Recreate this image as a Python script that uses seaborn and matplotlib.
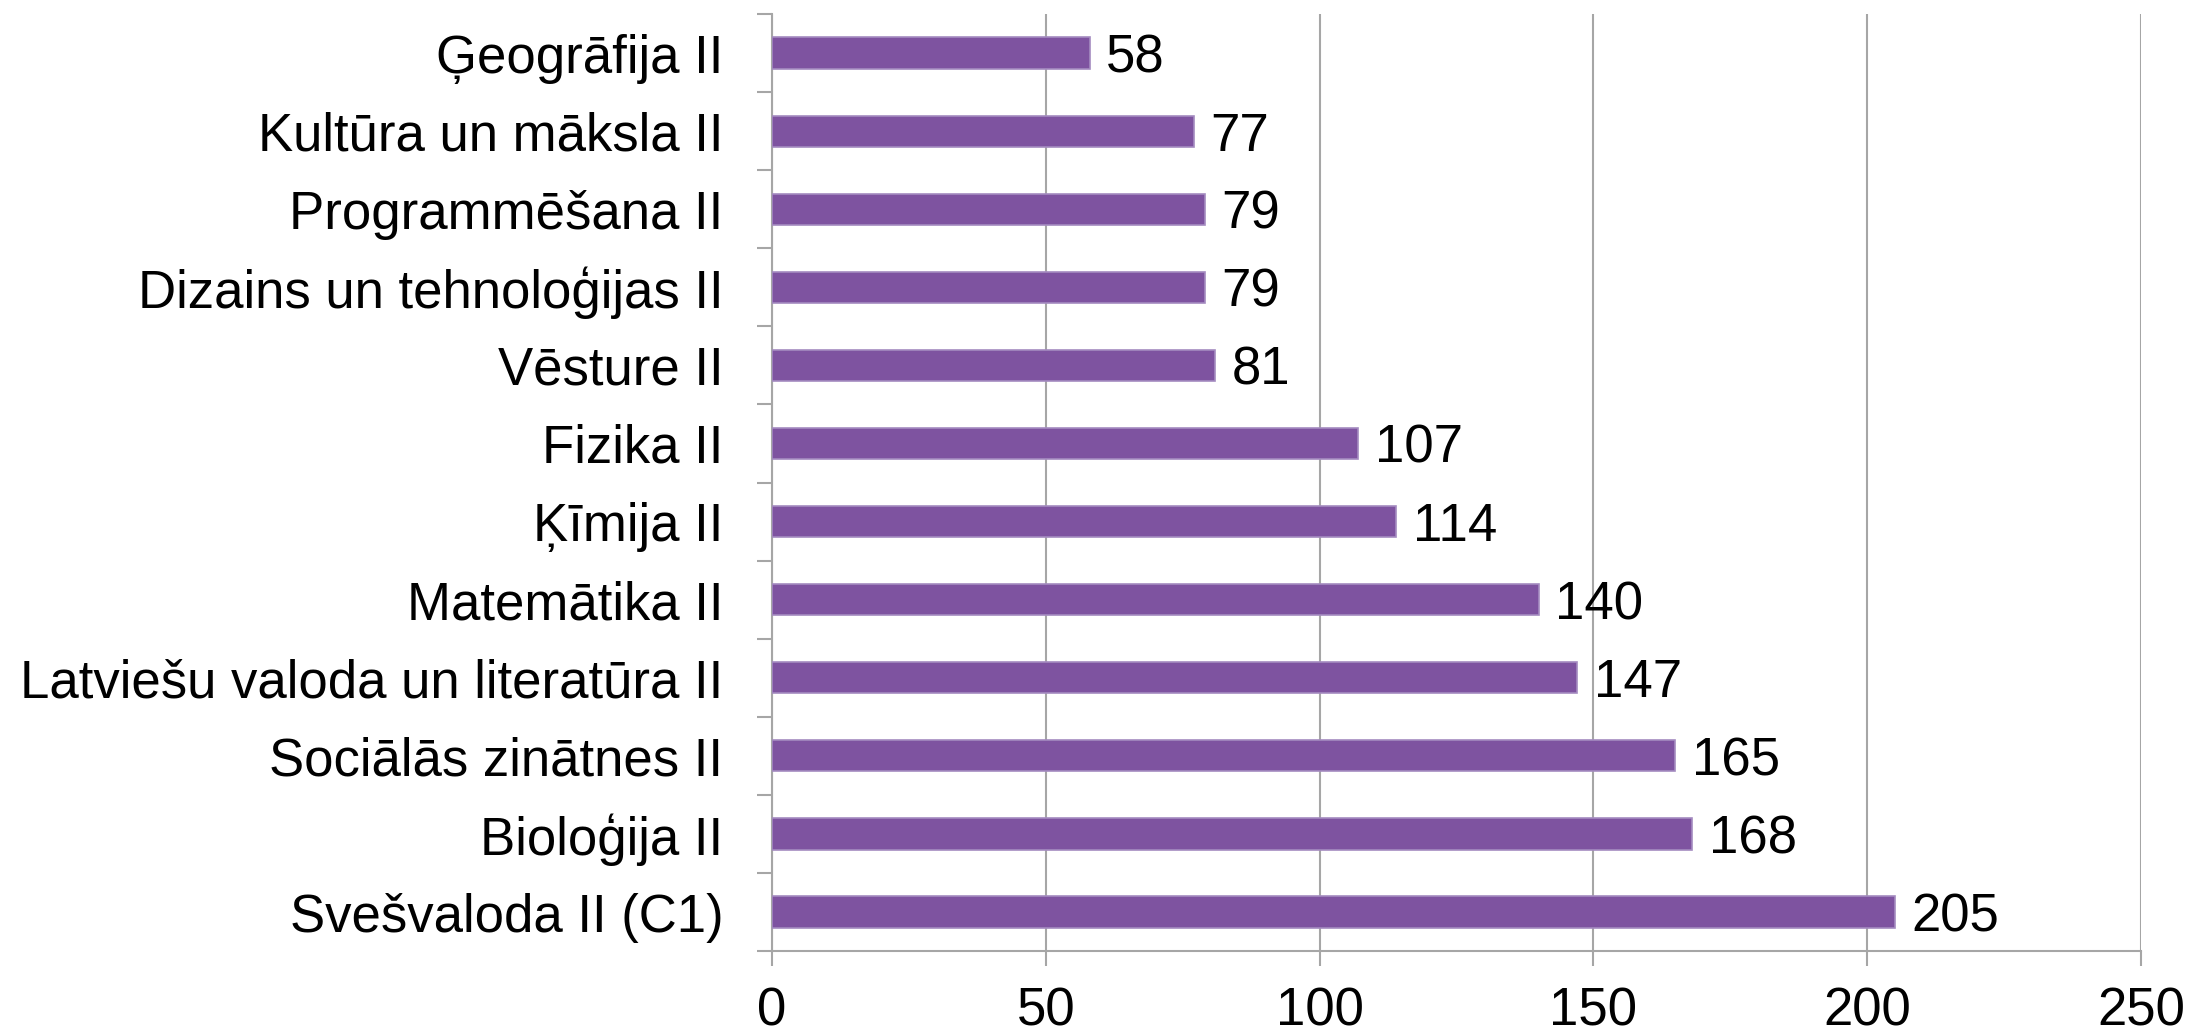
import matplotlib
matplotlib.use('Agg')
import matplotlib.pyplot as plt
from matplotlib.ticker import FixedLocator
import seaborn as sns
import pandas as pd
import numpy as np

# Chart data (top to bottom)
subjects = [
    'Ģeogrāfija II',
    'Kultūra un māksla II',
    'Programmēšana II',
    'Dizains un tehnoloģijas II',
    'Vēsture II',
    'Fizika II',
    'Ķīmija II',
    'Matemātika II',
    'Latviešu valoda un literatūra II',
    'Sociālās zinātnes II',
    'Bioloģija II',
    'Svešvaloda II (C1)',
]
counts = [58, 77, 79, 79, 81, 107, 114, 140, 147, 165, 168, 205]
x_ticks = [0, 50, 100, 150, 200, 250]

df = pd.DataFrame({'subject': subjects, 'count': counts})

sns.set_style('white')
plt.rcParams['font.family'] = ['Liberation Sans', 'DejaVu Sans']

bar_color = '#7E53A0'
grid_color = '#A6A6A6'
font_size = 38

fig = plt.figure(figsize=(21.88, 10.36), dpi=100)
ax = fig.add_axes([0.3528, 0.0820, 0.6257, 0.9045])

sns.barplot(x='count', y='subject', data=df, orient='h', color=bar_color,
            width=0.4, edgecolor='#A48BC0', linewidth=1.2, saturation=1,
            ax=ax, zorder=3)

ax.set_xlim(x_ticks[0], x_ticks[-1])
ax.set_ylim(len(subjects) - 0.5, -0.5)
ax.set_xticks(x_ticks)
ax.set_xlabel('')
ax.set_ylabel('')

# vertical gridlines
ax.grid(axis='x', color=grid_color, linewidth=1.5, zorder=0)
ax.set_axisbelow(True)

# spines
for side in ['top', 'right']:
    ax.spines[side].set_visible(False)
for side in ['left', 'bottom']:
    ax.spines[side].set_color(grid_color)
    ax.spines[side].set_linewidth(1.5)

# category ticks sit between the bars
ax.yaxis.set_minor_locator(FixedLocator(np.arange(-0.5, len(subjects), 1.0)))
ax.tick_params(axis='y', which='major', length=0, pad=35, labelsize=font_size,
               labelcolor='black')
ax.tick_params(axis='y', which='minor', length=11, width=1.5, color=grid_color,
               direction='out', left=True)
ax.tick_params(axis='x', which='major', length=11, width=1.5, color=grid_color,
               direction='out', pad=14.5, labelsize=font_size, labelcolor='black',
               bottom=True)

# value labels
for i, v in enumerate(counts):
    ax.annotate(str(v), xy=(v, i), xytext=(12, 0), textcoords='offset points',
                ha='left', va='center_baseline', fontsize=font_size, color='black')

fig.savefig('out.png', dpi=100)
